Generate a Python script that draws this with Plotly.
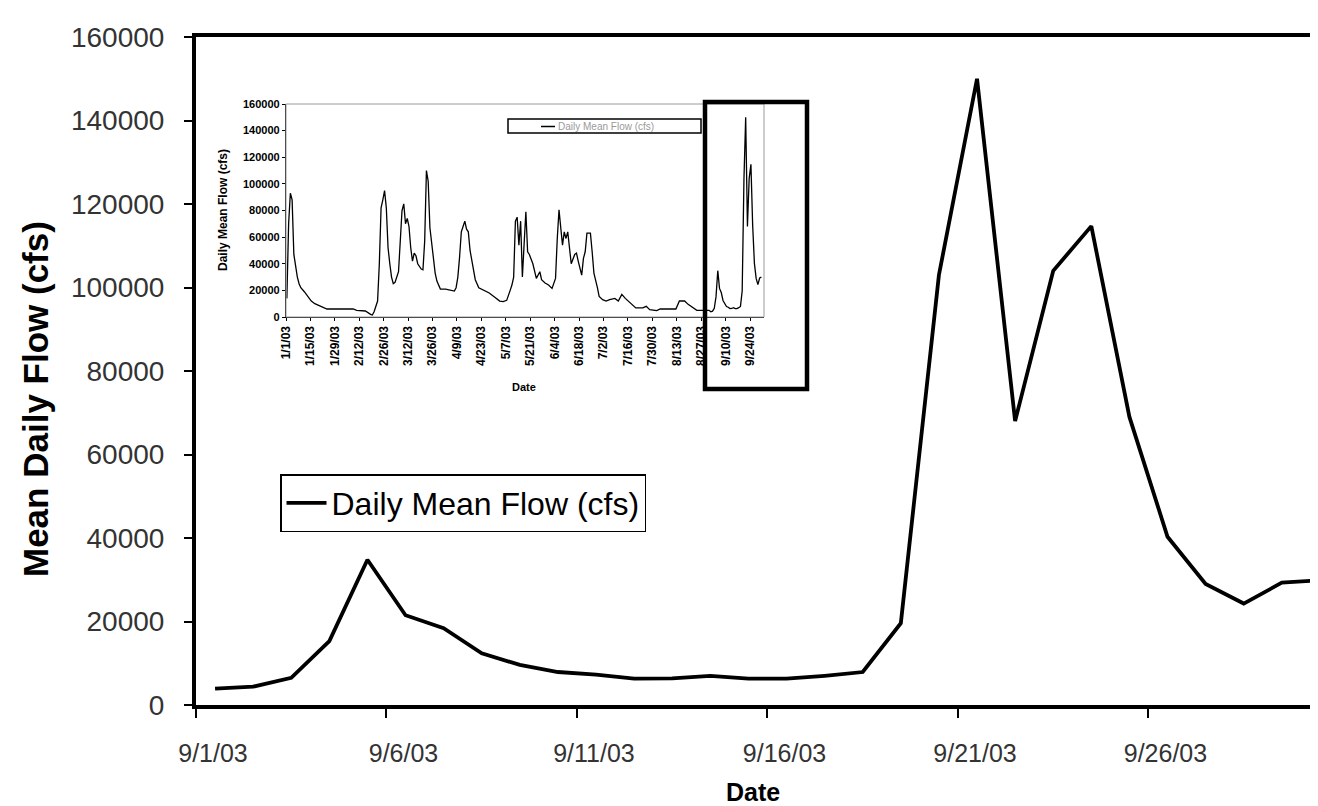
import pandas as pd
import plotly.graph_objects as go

# ---------------- data ----------------
# Main chart: September 2003 daily mean flow (cfs)
sept_days = list(range(1, 31))
sept_flow = [3900, 4400, 6500, 15300, 34800, 21500, 18400, 12400, 9600, 7900,
             7300, 6300, 6400, 7000, 6300, 6300, 7000, 7900, 19600, 103000,
             150000, 68000, 104000, 114700, 69000, 40300, 29000, 24300, 29300, 29900]

# Inset: Jan-Aug 2003 readings (day offset from 1/1/03, flow in cfs)
inset_day_index = [0, 1, 2, 3, 4, 5, 6, 7, 8, 10, 12, 14, 16, 19, 23, 30, 38, 40, 45, 48,
                   49, 50, 52, 53, 54, 55, 56, 57, 58, 59, 60, 61, 62, 63, 64, 65, 66, 67, 68, 69,
                   70, 71, 72, 73, 74, 75, 76, 77, 78, 79, 80, 81, 82, 83, 84, 85, 86, 88, 91, 94,
                   96, 97, 98, 99, 100, 101, 102, 103, 104, 105, 106, 107, 108, 110, 113, 116, 119, 122, 124, 126,
                   128, 129, 130, 131, 132, 133, 134, 135, 136, 137, 138, 139, 141, 142, 143, 145, 146, 148, 150, 152,
                   153, 154, 155, 156, 157, 158, 159, 160, 161, 162, 163, 165, 166, 167, 169, 170, 171, 172, 174, 175,
                   176, 178, 179, 181, 183, 185, 188, 190, 192, 194, 197, 200, 204, 206, 208, 212, 214, 218, 223, 225,
                   228, 230, 233, 235, 242]
inset_flow = [14000, 70000, 93000, 88000, 47000, 38000, 30000, 25000, 22000, 19000, 15000, 12000, 10000, 8500, 6000, 6000, 6000, 5000, 4500, 2000,
              1500, 4000, 12000, 40000, 82000, 88000, 95000, 82000, 52000, 40000, 30000, 25000, 26000, 30000, 34000, 57000, 80000, 85000, 70000, 74000,
              68000, 52000, 42000, 48000, 46000, 40000, 38000, 36000, 35500, 57000, 110000, 102000, 67000, 55000, 44000, 33000, 27000, 21000, 21000, 20000,
              19500, 22000, 30000, 45000, 64000, 68000, 72000, 66000, 64000, 50000, 42000, 34000, 28000, 22000, 20000, 18000, 15000, 12000, 11500, 12500,
              20000, 24000, 30000, 72000, 75000, 54000, 72000, 30000, 55000, 79000, 49000, 47000, 40000, 34000, 29000, 34000, 28000, 25500, 24000, 21500,
              25500, 29000, 59000, 80500, 67000, 54000, 64000, 59000, 64000, 50000, 40000, 47000, 48000, 42000, 31500, 44000, 49000, 63000, 63000, 49000,
              33000, 22000, 15500, 13000, 12000, 13000, 14000, 12000, 17000, 14000, 10500, 6800, 6800, 8000, 5500, 4800, 6000, 6000, 6000, 12000,
              12000, 9500, 7000, 5000, 5000]

series_name = "Daily Mean Flow (cfs)"

# ---------------- helpers ----------------
W, H = 1318, 806
L, R, T, B = 188, 0, 29, 109
PW, PH = W - L - R, H - T - B


def px(x):
    return (x - L) / PW


def py(y):
    return (H - B - y) / PH


FONT = "Liberation Sans, Arial, sans-serif"

main_x = [pd.Timestamp(2003, 9, d) + pd.Timedelta(hours=12) for d in sept_days]
inset_x = [pd.Timestamp(2003, 1, 1) + pd.Timedelta(days=i, hours=12) for i in inset_day_index] + main_x
inset_y = inset_flow + sept_flow

fig = go.Figure()
fig.add_trace(go.Scatter(x=main_x, y=sept_flow, mode="lines", name=series_name,
                         line=dict(color="black", width=3.8), showlegend=True))
fig.add_trace(go.Scatter(x=inset_x, y=inset_y, mode="lines", name=series_name,
                         line=dict(color="black", width=1.3), xaxis="x2", yaxis="y2",
                         showlegend=False))

fig.update_layout(
    width=W, height=H,
    margin=dict(l=L, r=R, t=T, b=B),
    paper_bgcolor="white", plot_bgcolor="white",
    font=dict(family=FONT, color="black"),
    xaxis=dict(
        type="date", range=["2003-09-01", "2003-09-30 15:50"],
        tick0="2003-09-01", dtick=5 * 86400000, tickformat="%-m/%-d/%y",
        ticks="outside", ticklen=9, tickwidth=2, tickcolor="black",
        showline=True, linewidth=4, linecolor="black", mirror=True,
        showgrid=False, zeroline=False,
        tickfont=dict(size=25, color="#333"),
        ticklabelshift=17, ticklabelstandoff=14,
    ),
    yaxis=dict(
        range=[0, 160000], dtick=20000, tickformat="d",
        ticks="outside", ticklen=8, tickwidth=2, tickcolor="black",
        showline=True, linewidth=4, linecolor="black",
        showgrid=False, zeroline=False,
        tickfont=dict(size=28, color="#333"), ticklabelstandoff=14,
    ),
    xaxis2=dict(
        domain=[px(278), px(756)], anchor="y2", type="date",
        range=["2003-01-01", "2003-10-02"], tick0="2003-01-01", dtick=14 * 86400000,
        tickformat="%-m/%-d/%y", tickangle=-90,
        ticks="outside", ticklen=3, tickwidth=1, tickcolor="black",
        showline=True, linewidth=1.3, linecolor="black",
        showgrid=False, zeroline=False,
        tickfont=dict(size=12, color="black", weight="bold"),
    ),
    yaxis2=dict(
        domain=[py(309), py(96)], anchor="x2",
        range=[0, 160000], dtick=20000, tickformat="d",
        ticks="outside", ticklen=3, tickwidth=1, tickcolor="black",
        showline=True, linewidth=1.3, linecolor="black",
        showgrid=False, zeroline=False,
        tickfont=dict(size=11, color="black", weight="bold"),
    ),
    legend=dict(
        x=px(272), y=py(466), xanchor="left", yanchor="top",
        bgcolor="white", bordercolor="black", borderwidth=1.5,
        font=dict(size=32, color="black"),
        itemwidth=40, tracegroupgap=0,
    ),
)

shapes = [
    # thin grey frame of the inset plot
    dict(type="rect", xref="x2 domain", yref="y2 domain", x0=0, x1=1, y0=0, y1=1,
         line=dict(color="#9a9a9a", width=1)),
    # inset legend box
    dict(type="rect", xref="paper", yref="paper", x0=px(500), x1=px(693), y0=py(125), y1=py(111),
         line=dict(color="black", width=1.5), fillcolor="white"),
    dict(type="line", xref="paper", yref="paper", x0=px(533), x1=px(547), y0=py(118.5), y1=py(118.5),
         line=dict(color="black", width=1.5)),
    # highlight box around September in the inset
    dict(type="rect", xref="paper", yref="paper", x0=px(697), x1=px(799), y0=py(381), y1=py(94),
         line=dict(color="black", width=4.5)),
]
fig.update_layout(shapes=shapes)

annotations = [
    dict(text="<b>Mean Daily Flow (cfs)</b>", xref="paper", yref="paper", x=px(27), y=py(391),
         xanchor="center", yanchor="middle",
         textangle=-90, showarrow=False, font=dict(size=35, color="black")),
    dict(text="<b>Date</b>", xref="paper", yref="paper", x=px(745), y=py(800),
         xanchor="center", yanchor="bottom",
         showarrow=False, font=dict(size=25, color="black")),
    dict(text="<b>Daily Mean Flow (cfs)</b>", xref="paper", yref="paper", x=px(215), y=py(202),
         xanchor="center", yanchor="middle",
         textangle=-90, showarrow=False, font=dict(size=12, color="black")),
    dict(text="<b>Date</b>", xref="paper", yref="paper", x=px(516), y=py(379),
         xanchor="center", yanchor="middle",
         showarrow=False, font=dict(size=11, color="black")),
    dict(text=series_name, xref="paper", yref="paper", x=px(548), y=py(118), xanchor="left",
         yanchor="middle", showarrow=False, font=dict(size=10, color="#9a9a9a")),
]
fig.update_layout(annotations=annotations)

fig.write_html("out.html")
